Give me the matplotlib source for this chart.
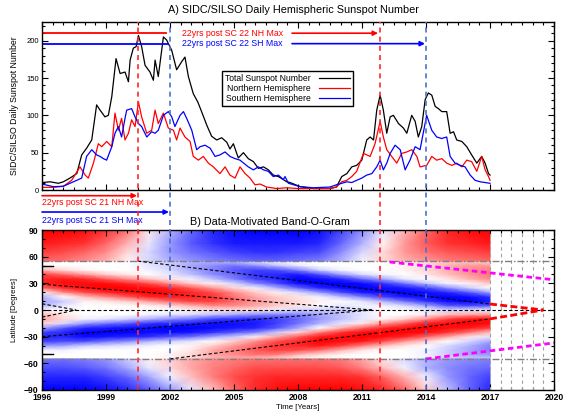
import numpy as np
import matplotlib.pyplot as plt
import matplotlib.transforms as mtransforms
from matplotlib.lines import Line2D
from matplotlib.ticker import MultipleLocator

plt.rcParams['font.family'] = ['Liberation Sans', 'DejaVu Sans']

# ------ Daily sunspot numbers (smoothed) ------
total_years = [1996.0, 1996.38, 1996.77, 1997.0, 1997.31, 1997.63, 1997.86, 1998.09, 1998.33, 1998.56,
               1998.72, 1998.95, 1999.11, 1999.27, 1999.47, 1999.66, 1999.89, 2000.05, 2000.13, 2000.28,
               2000.41, 2000.52, 2000.67, 2000.83, 2001.06, 2001.22, 2001.3, 2001.45, 2001.69, 2001.84,
               2002.08, 2002.31, 2002.55, 2002.7, 2002.86, 2003.09, 2003.3, 2003.48, 2003.72, 2003.95,
               2004.19, 2004.42, 2004.66, 2004.81, 2004.97, 2005.2, 2005.44, 2005.67, 2005.91, 2006.14,
               2006.38, 2006.61, 2006.84, 2007.08, 2007.31, 2007.47, 2007.63, 2008.1, 2008.72, 2009.5,
               2009.8, 2010.05, 2010.29, 2010.52, 2010.75, 2010.99, 2011.22, 2011.38, 2011.54, 2011.69,
               2011.85, 2012.0, 2012.16, 2012.32, 2012.47, 2012.71, 2012.94, 2013.1, 2013.33, 2013.49,
               2013.64, 2013.8, 2013.96, 2014.11, 2014.27, 2014.43, 2014.58, 2014.74, 2014.97, 2015.13,
               2015.29, 2015.44, 2015.68, 2015.91, 2016.14, 2016.38, 2016.61, 2016.77, 2016.93, 2017.0]
total_ssn = [10, 11, 9, 11, 16, 22, 47, 56, 67, 114,
             107, 98, 100, 125, 176, 156, 158, 145, 174, 190,
             192, 207, 192, 167, 158, 147, 174, 152, 205, 201,
             187, 161, 172, 178, 152, 129, 118, 105, 87, 72,
             67, 70, 64, 55, 62, 43, 50, 42, 38, 29,
             31, 27, 20, 18, 14, 11, 10, 4.5, 2, 2,
             4, 18, 22, 31, 33, 40, 67, 71, 67, 107,
             127, 107, 76, 98, 100, 89, 83, 76, 100, 92,
             71, 85, 121, 130, 127, 112, 109, 105, 105, 76,
             78, 67, 65, 58, 47, 36, 45, 36, 22, 20]

north_years = [1996.0, 1996.53, 1997.0, 1997.39, 1997.78, 1998.02, 1998.17, 1998.41, 1998.64, 1998.8,
               1999.03, 1999.27, 1999.42, 1999.58, 1999.73, 1999.89, 2000.05, 2000.2, 2000.36, 2000.52,
               2000.67, 2000.91, 2001.14, 2001.3, 2001.45, 2001.69, 2001.92, 2002.16, 2002.31, 2002.47,
               2002.7, 2002.94, 2003.09, 2003.33, 2003.56, 2003.8, 2004.03, 2004.34, 2004.58, 2004.81,
               2005.05, 2005.28, 2005.52, 2005.75, 2005.98, 2006.22, 2006.53, 2007.0, 2007.47, 2008.0,
               2009.5, 2009.8, 2010.05, 2010.29, 2010.52, 2010.75, 2011.07, 2011.38, 2011.61, 2011.85,
               2012.0, 2012.16, 2012.39, 2012.63, 2012.86, 2013.1, 2013.33, 2013.57, 2013.72, 2014.03,
               2014.27, 2014.5, 2014.74, 2014.97, 2015.21, 2015.44, 2015.68, 2015.91, 2016.14, 2016.38,
               2016.61, 2016.77, 2016.93, 2017.0]
north_ssn = [3.6, 3.6, 5, 13, 31, 20, 16, 36, 62, 58,
             65, 58, 103, 80, 96, 67, 76, 94, 85, 118,
             98, 76, 80, 107, 89, 103, 83, 80, 67, 83,
             71, 65, 45, 40, 45, 36, 31, 22, 31, 20,
             16, 31, 22, 16, 7, 8, 4, 2, 3, 2,
             2, 4, 11, 13, 18, 25, 49, 45, 62, 92,
             71, 54, 45, 36, 49, 51, 54, 45, 31, 33,
             45, 40, 42, 36, 33, 36, 31, 40, 38, 25,
             45, 27, 18, 13]

south_years = [1996.0, 1996.53, 1997.0, 1997.31, 1997.63, 1997.86, 1998.09, 1998.33, 1998.56, 1998.72,
               1998.88, 1999.03, 1999.27, 1999.42, 1999.58, 1999.73, 1999.89, 1999.97, 2000.2, 2000.36,
               2000.52, 2000.67, 2000.91, 2001.14, 2001.3, 2001.45, 2001.69, 2001.92, 2002.08, 2002.23,
               2002.47, 2002.63, 2002.78, 2003.02, 2003.25, 2003.41, 2003.64, 2003.88, 2004.11, 2004.34,
               2004.58, 2004.81, 2005.05, 2005.28, 2005.67, 2005.91, 2006.14, 2006.38, 2006.61, 2006.84,
               2007.08, 2007.31, 2007.39, 2007.55, 2008.1, 2008.72, 2009.5, 2009.8, 2010.05, 2010.29,
               2010.52, 2010.75, 2010.99, 2011.22, 2011.46, 2011.69, 2011.85, 2012.0, 2012.16, 2012.32,
               2012.55, 2012.79, 2013.02, 2013.25, 2013.49, 2013.72, 2014.03, 2014.27, 2014.5, 2014.74,
               2014.97, 2015.13, 2015.36, 2015.6, 2015.83, 2016.07, 2016.3, 2016.54, 2016.77, 2017.0]
south_ssn = [8, 4.5, 5, 9, 13, 16, 45, 54, 47, 45,
             42, 40, 58, 76, 85, 71, 96, 107, 109, 98,
             89, 85, 71, 78, 76, 80, 100, 105, 98, 85,
             100, 105, 96, 80, 54, 58, 60, 56, 45, 47,
             51, 45, 42, 40, 31, 27, 31, 27, 25, 18,
             20, 14, 18, 9, 4.5, 3, 4, 7, 9, 11,
             10, 13, 16, 20, 22, 31, 40, 27, 36, 49,
             60, 54, 27, 40, 58, 54, 100, 80, 71, 69,
             71, 45, 36, 33, 31, 20, 13, 11, 10, 9]

# ------ hemispheric maxima of SC 21 / SC 22, shifted by 22 years ------
lag = 22
nh_max_sc21 = 1978.5
sh_max_sc21 = 1980.0
nh_max_sc22 = 1989.85
sh_max_sc22 = 1992.0

# ------ band-o-gram (-1 blue .. +1 red) ------
bog_years = list(range(1996, 2018))
band_lats = list(range(55, -56, -5))   # 55 -> -55, one column per year below
band_cols = [
    [0, .05, .3, .75, .85, .85, .6, .05, -.3, -.35, -.3, 0, .3, .35, .15, -.35, -.75, -.85, -.75, -.4, -.05, 0, 0],
    [0, 0, .15, .6, .9, .95, .85, .45, 0, -.2, -.1, 0, .1, .15, -.15, -.65, -.85, -.85, -.7, -.35, -.05, 0, 0],
    [0, 0, .05, .4, .85, .95, .95, .7, .25, .05, 0, 0, 0, -.05, -.4, -.85, -1, -.95, -.7, -.2, 0, 0, 0],
    [0, 0, 0, .2, .65, .95, 1, .85, .45, .1, 0, 0, 0, -.1, -.55, -.9, -1, -.9, -.55, -.15, 0, 0, 0],
    [0, 0, 0, .1, .45, .85, 1, .95, .65, .2, 0, 0, 0, -.2, -.65, -.95, -1, -.85, -.45, -.1, 0, 0, 0],
    [-.1, -.1, -.05, 0, .25, .7, .95, 1, .85, .4, .05, 0, -.05, -.3, -.8, -.95, -.95, -.8, -.3, -.05, 0, 0, 0],
    [-.2, -.2, -.15, -.1, .1, .45, .85, .95, .9, .6, .15, 0, -.1, -.45, -.85, -1, -.95, -.65, -.2, 0, 0, .05, .05],
    [-.3, -.35, -.35, -.25, -.05, .2, .65, .85, .85, .75, .3, .05, -.15, -.55, -.9, -1, -.9, -.55, -.1, .05, .1, .15, .15],
    [-.3, -.45, -.5, -.45, -.25, .05, .4, .7, .8, .75, .45, .1, -.25, -.75, -.95, -.95, -.8, -.35, 0, .2, .35, .35, .3],
    [-.25, -.55, -.65, -.6, -.5, -.15, .15, .45, .55, .6, .45, .1, -.35, -.8, -.95, -.9, -.65, -.2, .2, .4, .5, .45, .35],
    [-.1, -.45, -.75, -.8, -.75, -.45, -.05, .2, .35, .4, .35, .1, -.45, -.85, -.9, -.85, -.5, .05, .45, .6, .65, .55, .25],
    [-.05, -.25, -.7, -.85, -.85, -.7, -.3, .05, .2, .25, .2, -.05, -.5, -.75, -.75, -.65, -.2, .35, .7, .8, .75, .5, .15],
    [0, -.1, -.5, -.9, -1, -.95, -.6, -.15, .1, .15, .1, -.15, -.5, -.6, -.55, -.35, .15, .65, .85, .85, .7, .3, .05],
    [0, 0, -.2, -.7, -.95, -1, -.85, -.4, -.05, .05, 0, -.2, -.35, -.4, -.3, 0, .5, .9, 1, .9, .55, .15, 0],
    [0, 0, -.05, -.4, -.85, -1, -.95, -.7, -.25, 0, -.1, -.2, -.25, -.25, -.1, .3, .8, .95, .95, .75, .3, .05, 0],
    [0, 0, 0, -.15, -.6, -.95, -1, -.9, -.5, -.1, -.05, -.1, -.1, -.1, .1, .6, .95, 1, .9, .5, .1, 0, 0],
    [0, 0, 0, -.05, -.35, -.8, -.95, -.95, -.75, -.3, -.05, 0, 0, .05, .4, .85, 1, .95, .7, .25, 0, 0, 0],
    [.05, .05, .05, 0, -.1, -.55, -.9, -1, -.9, -.55, -.15, 0, 0, .2, .65, .95, 1, .85, .4, .1, 0, 0, 0],
    [.15, .15, .15, .1, 0, -.25, -.75, -.95, -.95, -.8, -.35, -.05, .1, .45, .9, 1, .95, .6, .2, 0, -.05, -.05, -.05],
    [.2, .3, .3, .25, .1, -.05, -.45, -.85, -1, -.95, -.65, -.15, .25, .75, .95, .95, .8, .35, 0, -.15, -.2, -.2, -.15],
    [.2, .4, .45, .4, .3, .05, -.2, -.65, -.95, -1, -.7, -.1, .35, .9, 1, .9, .55, .1, -.15, -.3, -.35, -.35, -.2],
    [.15, .4, .5, .55, .45, .2, 0, -.35, -.8, -.9, -.65, -.05, .4, .95, .95, .75, .25, -.1, -.35, -.5, -.5, -.4, -.2],
]
nh_cap_lats = [55, 65, 75, 90]
nh_cap = [
    [.6, .55, .45, .3, .05, -.15, -.3, -.4, -.5, -.55, -.6, -.6, -.55, -.5, -.3, -.05, .15, .3, .4, .5, .55, .6],
    [.75, .7, .6, .45, .15, -.15, -.4, -.55, -.65, -.75, -.8, -.8, -.75, -.7, -.45, -.15, .15, .4, .55, .65, .7, .75],
    [.9, .85, .8, .6, .3, -.1, -.4, -.65, -.8, -.9, -.9, -.9, -.9, -.85, -.6, -.3, .05, .4, .65, .8, .85, .9],
    [1, 1, .95, .8, .55, .1, -.3, -.6, -.85, -.95, -1, -1, -1, -.95, -.75, -.45, -.1, .3, .6, .85, .95, 1],
]
sh_cap_lats = [-90, -75, -65, -55]
sh_cap = [
    [-1, -1, -1, -.95, -.85, -.65, -.4, -.1, .25, .6, .85, .95, 1, 1, 1, .95, .85, .6, .2, -.25, -.6, -.85],
    [-.85, -.85, -.85, -.75, -.6, -.35, -.05, .25, .5, .7, .8, .85, .85, .85, .85, .8, .6, .3, -.05, -.4, -.6, -.75],
    [-.7, -.7, -.65, -.55, -.35, -.1, .15, .35, .5, .6, .7, .7, .7, .7, .65, .5, .25, -.05, -.3, -.45, -.55, -.6],
    [-.55, -.55, -.5, -.4, -.2, .05, .2, .35, .45, .5, .55, .55, .55, .55, .5, .35, .1, -.15, -.3, -.4, -.45, -.5],
]

# band tracks (dashed black), extrapolations (red) and next bands (magenta)
track_years = [[1996, 2011.5], [1996, 2011.5], [1996, 1997.6], [1996, 1997.6], [2000.5, 2017], [2002, 2017]]
track_lats = [[29, 0], [-30, 0], [7, 0], [-8, 0], [55, 6.75], [-55, -10]]
extrap_years = [[2017, 2019.5], [2017, 2019.5]]
extrap_lats = [[6.75, 0], [-10, 0]]
next_years = [[2012.3, 2020], [2014, 2020]]
next_lats = [[54, 34], [-55, -37]]
future_years = [2017, 2017.5, 2018, 2018.5, 2019, 2019.5]

RED = '#ff0000'
BLUE = '#0000ff'
DRED = '#ff2a2a'
DBLUE = '#4f6fd0'

fig = plt.figure(figsize=(5.64, 4.12), dpi=100)
ax1 = fig.add_axes([0.0745, 0.5388, 0.9078, 0.4078])
ax2 = fig.add_axes([0.0745, 0.0534, 0.9078, 0.3883])

# ------ Panel A ------
ax1.plot(total_years, total_ssn, color='black', lw=0.9, label='Total Sunspot Number')
ax1.plot(north_years, north_ssn, color=RED, lw=0.9, label='Northern Hemisphere')
ax1.plot(south_years, south_ssn, color=BLUE, lw=0.9, label='Southern Hemisphere')
ax1.set_xlim(1996, 2020)
ax1.set_ylim(0, 225)
ax1.set_xticks(range(1996, 2021, 3))
ax1.xaxis.set_minor_locator(MultipleLocator(0.5))
ax1.set_yticks(range(0, 201, 50))
ax1.yaxis.set_minor_locator(MultipleLocator(10))
ax1.tick_params(labelbottom=False, labelsize=5.5, pad=2)

leg = ax1.legend(loc='upper left', bbox_to_anchor=(0.3516, 0.7083), borderaxespad=0,
                 markerfirst=False, fontsize=6.2, fancybox=False, edgecolor='black',
                 framealpha=1, handlelength=3.6, handletextpad=0.9, labelspacing=0.12,
                 borderpad=0.35)
leg.get_frame().set_linewidth(1.0)

# SC 22 markers
ax1.plot([1996, 2001.8], [210, 210], color=RED, lw=1.3)
ax1.plot([1996, 2001.9], [196, 196], color=BLUE, lw=1.3)
ax1.text(2002.56, 210, '22yrs post SC 22 NH Max', color=RED, fontsize=6.3, va='center')
ax1.text(2002.56, 196, '22yrs post SC 22 SH Max', color=BLUE, fontsize=6.3, va='center')
arrow = dict(arrowstyle='-|>', lw=1.2, shrinkA=0, shrinkB=0, mutation_scale=7)
ax1.annotate('', xy=(nh_max_sc22 + lag - 0.1, 210), xytext=(2007.72, 210),
             arrowprops=dict(arrow, color=RED))
ax1.annotate('', xy=(sh_max_sc22 + lag - 0.05, 196), xytext=(2007.72, 196),
             arrowprops=dict(arrow, color=BLUE))

# SC 21 markers, between the panels
blend = mtransforms.blended_transform_factory(ax1.transData, fig.transFigure)
ax1.annotate('', xy=(nh_max_sc21 + lag - 0.05, 0.525), xytext=(1996, 0.525),
             xycoords=blend, textcoords=blend, annotation_clip=False,
             arrowprops=dict(arrow, color=RED))
ax1.annotate('', xy=(sh_max_sc21 + lag - 0.05, 0.4854), xytext=(1996, 0.4854),
             xycoords=blend, textcoords=blend, annotation_clip=False,
             arrowprops=dict(arrow, color=BLUE))
ax1.text(1996, 0.5073, '22yrs post SC 21 NH Max', transform=blend, color=RED,
         fontsize=6.3, va='center', clip_on=False)
ax1.text(1996, 0.466, '22yrs post SC 21 SH Max', transform=blend, color=BLUE,
         fontsize=6.3, va='center', clip_on=False)

# ------ Panel B ------
yrs = np.array(bog_years)
band = np.array(band_cols).T[::-1]
ax2.pcolormesh(yrs, np.array(band_lats)[::-1], band, cmap='bwr', vmin=-1, vmax=1,
               shading='gouraud')
ax2.pcolormesh(yrs, nh_cap_lats, np.array(nh_cap), cmap='bwr', vmin=-1, vmax=1,
               shading='gouraud')
ax2.pcolormesh(yrs, sh_cap_lats, np.array(sh_cap), cmap='bwr', vmin=-1, vmax=1,
               shading='gouraud')

for yr in future_years:
    ax2.axvline(yr, color='#a0a0a0', lw=0.8, dashes=(3, 3))
for lat in (55, -55):
    ax2.axhline(lat, color='#808080', lw=1.0, dashes=(5, 1.5, 1, 1.5))
ax2.axhline(0, color='black', lw=0.8, dashes=(3, 2))
for xs, ys in zip(track_years, track_lats):
    ax2.plot(xs, ys, color='black', lw=0.8, dashes=(3, 2))
for xs, ys in zip(extrap_years, extrap_lats):
    ax2.plot(xs, ys, color=RED, lw=2.0, dashes=(2.5, 1.2))
for xs, ys in zip(next_years, next_lats):
    ax2.plot(xs, ys, color='#ff00ff', lw=2.0, dashes=(2, 1.3))
for lat in (50, -50):
    ax2.plot([1996, 1996.5], [lat, lat], color='black', lw=1.0)

ax2.set_xlim(1996, 2020)
ax2.set_ylim(-90, 90)
ax2.set_xticks(range(1996, 2021, 3))
ax2.xaxis.set_minor_locator(MultipleLocator(0.5))
ax2.set_yticks(range(-90, 91, 30))
ax2.yaxis.set_minor_locator(MultipleLocator(10))
ax2.tick_params(labelsize=6.2, pad=2.5)
for lbl in ax2.get_xticklabels() + ax2.get_yticklabels():
    lbl.set_fontweight('bold')

for ax in (ax1, ax2):
    ax.tick_params(which='both', direction='in', top=True, right=True, width=0.8)
    ax.tick_params(which='major', length=4.5)
    ax.tick_params(which='minor', length=2.2)
    for s in ax.spines.values():
        s.set_linewidth(1.0)

# 22-year lines running through both panels
for yr, col in [(nh_max_sc21, DRED), (sh_max_sc21, DBLUE), (nh_max_sc22, DRED), (sh_max_sc22, DBLUE)]:
    fig.add_artist(Line2D([yr + lag, yr + lag], [0.0534, 0.9466], transform=blend,
                          color=col, lw=1.2, dashes=(3, 2.5)))

# ------ titles and labels ------
fig.text(0.5195, 0.9757, 'A) SIDC/SILSO Daily Hemispheric Sunspot Number', fontsize=7.8,
         ha='center', va='center')
fig.text(0.337, 0.461, 'B) Data-Motivated Band-O-Gram', fontsize=7.8, ha='left', va='center')
fig.text(0.026, 0.743, 'SIDC/SILSO Daily Sunspot Number', fontsize=6.3, rotation=90,
         ha='center', va='center')
fig.text(0.026, 0.2476, 'Latitude [Degrees]', fontsize=5.6, rotation=90, ha='center', va='center')
fig.text(0.528, 0.011, 'Time [Years]', fontsize=5.6, ha='center', va='center')

fig.savefig('out.png', dpi=100)
